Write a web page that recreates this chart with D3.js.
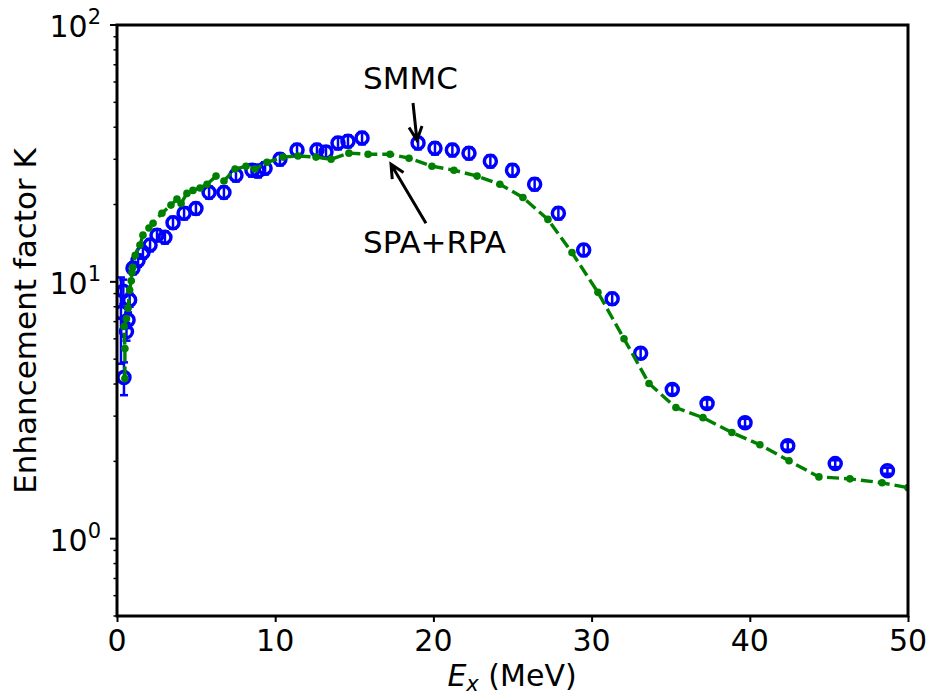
<!DOCTYPE html>
<html>
<head>
<meta charset="utf-8">
<script src="https://cdn.jsdelivr.net/npm/d3@7"></script>
<style>
  body { margin: 0; background: #fff; }
  text { font-family: "DejaVu Sans", sans-serif; fill: #000; }
</style>
</head>
<body>
<div id="chart"></div>
<script>
var W = 930, H = 698

// SMMC: excitation energy (MeV), enhancement factor, error
var smmcX = [0.25, 0.40, 0.44, 0.60, 0.70, 0.80, 1.01, 1.33, 1.64, 2.09, 2.53, 3.03, 3.54, 4.24, 4.99, 5.82, 6.76, 7.52, 8.53, 8.91, 9.36, 10.30, 11.38, 12.64, 13.21, 13.97, 14.60, 15.49, 19.03, 20.1, 21.2, 22.25, 23.6, 25.0, 26.4, 27.9, 29.5, 31.3, 33.1, 35.1, 37.3, 39.7, 42.4, 45.4, 48.7]
var smmcK = [7.6, 9.2, 4.24, 6.4, 7.1, 8.5, 11.3, 12.1, 13.0, 13.9, 15.2, 14.9, 17.0, 18.5, 19.3, 22.3, 22.3, 26.0, 27.2, 27.0, 27.7, 30.0, 32.6, 32.6, 32.0, 34.7, 35.3, 36.3, 34.7, 33.1, 32.6, 31.7, 29.5, 27.2, 24.0, 18.5, 13.3, 8.6, 5.27, 3.81, 3.36, 2.83, 2.30, 1.96, 1.84]
var smmcErr = [2.8, 1.0, 0.62, 0.5, 0.5, 0.5, 0.6, 0.65, 0.7, 0.75, 0.8, 0.8, 0.9, 1.0, 1.0, 1.2, 1.2, 1.4, 1.5, 1.5, 1.5, 1.6, 1.8, 1.8, 1.7, 1.9, 1.9, 2.0, 1.9, 1.8, 1.8, 1.7, 1.6, 1.5, 1.3, 1.0, 0.7, 0.45, 0.25, 0.15, 0.12, 0.1, 0.08, 0.06, 0.05]

// SPA+RPA
var spaX = [0.5, 0.5, 0.45, 0.6, 0.7, 0.8, 0.9, 0.95, 1.0, 1.15, 1.45, 1.64, 2.02, 2.28, 2.84, 3.41, 3.79, 4.05, 4.42, 4.80, 5.25, 5.69, 6.26, 6.76, 7.46, 8.15, 8.72, 9.48, 10.49, 11.44, 12.58, 13.53, 14.66, 15.87, 17.26, 18.46, 19.91, 21.3, 22.76, 24.2, 25.66, 27.24, 28.76, 30.4, 32.05, 33.63, 35.33, 37.04, 38.87, 40.64, 42.48, 44.37, 46.33, 48.36, 50]
var spaK = [4.2, 5.5, 6.7, 7.2, 7.9, 9.3, 10.1, 10.9, 11.4, 12.7, 13.9, 15.2, 16.2, 16.9, 18.5, 19.9, 21.0, 20.2, 22.1, 22.7, 23.2, 24.0, 25.8, 24.7, 27.5, 28.2, 27.5, 29.2, 30.6, 30.9, 30.6, 30.0, 31.7, 31.4, 31.4, 30.3, 28.2, 27.2, 25.8, 24.0, 21.3, 17.5, 13.0, 9.1, 6.0, 4.02, 3.24, 2.96, 2.59, 2.32, 2.01, 1.74, 1.71, 1.65, 1.58]

var xTicks = [0, 10, 20, 30, 40, 50]
var yTicks = [1, 10, 100]
var yExp = ["0", "1", "2"]

// annotations: label position, arrow start, arrow tip (data coords)
var annLabels = ["SMMC", "SPA+RPA"]
var annText = [[15.55, 56.3], [15.55, 12.9]]
var annFrom = [[18.71, 49.7], [19.53, 16.9]]
var annTo = [[18.96, 35.6], [17.32, 28.7]]

var xScale = d3.scaleLinear().domain([0, 50]).range([117, 908])
var yScale = d3.scaleLog().domain([0.5, 100]).range([616, 25])

var svg = d3.select("#chart").append("svg")
    .attr("width", W)
    .attr("height", H)

svg.append("defs").append("clipPath").attr("id", "clip")
    .append("rect")
    .attr("x", 117).attr("y", 25)
    .attr("width", 791).attr("height", 591)

var plotG = svg.append("g").attr("clip-path", "url(#clip)")

// SMMC error bars and open circles
var smmc = smmcX.map(function(d, i) { return {x: d, k: smmcK[i], e: smmcErr[i]} })

var errG = plotG.selectAll(".err")
    .data(smmc)
    .enter()
    .append("g")
    .attr("class", "err")
    .attr("stroke", "#0000ff")
    .attr("stroke-width", 2.5)

errG.append("line")
    .attr("x1", function(d) { return xScale(d.x) })
    .attr("x2", function(d) { return xScale(d.x) })
    .attr("y1", function(d) { return yScale(d.k - d.e) })
    .attr("y2", function(d) { return yScale(d.k + d.e) })
errG.append("line")
    .attr("x1", function(d) { return xScale(d.x) - 4 })
    .attr("x2", function(d) { return xScale(d.x) + 4 })
    .attr("y1", function(d) { return yScale(d.k - d.e) })
    .attr("y2", function(d) { return yScale(d.k - d.e) })
errG.append("line")
    .attr("x1", function(d) { return xScale(d.x) - 4 })
    .attr("x2", function(d) { return xScale(d.x) + 4 })
    .attr("y1", function(d) { return yScale(d.k + d.e) })
    .attr("y2", function(d) { return yScale(d.k + d.e) })

plotG.selectAll(".smmc")
    .data(smmc)
    .enter()
    .append("circle")
    .attr("class", "smmc")
    .attr("cx", function(d) { return xScale(d.x) })
    .attr("cy", function(d) { return yScale(d.k) })
    .attr("r", 6)
    .attr("fill", "none")
    .attr("stroke", "#0000ff")
    .attr("stroke-width", 3.5)

// SPA+RPA dashed line with dots
var spa = spaX.map(function(d, i) { return {x: d, k: spaK[i]} })
var line = d3.line()
    .x(function(d) { return xScale(d.x) })
    .y(function(d) { return yScale(d.k) })

plotG.append("path")
    .datum(spa)
    .attr("d", line)
    .attr("fill", "none")
    .attr("stroke", "#008000")
    .attr("stroke-width", 3.4)
    .attr("stroke-dasharray", "12,5")

plotG.selectAll(".spa")
    .data(spa)
    .enter()
    .append("circle")
    .attr("class", "spa")
    .attr("cx", function(d) { return xScale(d.x) })
    .attr("cy", function(d) { return yScale(d.k) })
    .attr("r", 3.8)
    .attr("fill", "#008000")

// annotations
annLabels.forEach(function(lab, i) {
    svg.append("text")
        .attr("x", xScale(annText[i][0]))
        .attr("y", yScale(annText[i][1]))
        .attr("font-size", "31px")
        .text(lab)

    var x1 = xScale(annFrom[i][0]), y1 = yScale(annFrom[i][1])
    var x2 = xScale(annTo[i][0]), y2 = yScale(annTo[i][1])
    var ang = Math.atan2(y2 - y1, x2 - x1)
    var hl = 15, ha = 0.45
    var p = "M" + x1 + "," + y1 + "L" + x2 + "," + y2 +
        "M" + (x2 - hl * Math.cos(ang - ha)) + "," + (y2 - hl * Math.sin(ang - ha)) +
        "L" + x2 + "," + y2 +
        "L" + (x2 - hl * Math.cos(ang + ha)) + "," + (y2 - hl * Math.sin(ang + ha))
    svg.append("path")
        .attr("d", p)
        .attr("fill", "none")
        .attr("stroke", "#000")
        .attr("stroke-width", 3)
})

// axes
var xAxis = d3.axisBottom(xScale).tickValues(xTicks).tickSize(6).tickFormat("")
svg.append("g")
    .attr("transform", "translate(0,616)")
    .call(xAxis)
    .call(function(g) { g.select(".domain").remove() })
    .selectAll("line").attr("stroke-width", 2)

svg.selectAll(".xlab")
    .data(xTicks)
    .enter()
    .append("text")
    .attr("class", "xlab")
    .attr("x", function(d) { return xScale(d) })
    .attr("y", 651)
    .attr("text-anchor", "middle")
    .attr("font-size", "30px")
    .text(function(d) { return d })

// y minor ticks
var minor = []
;[0.5, 0.6, 0.7, 0.8, 0.9].forEach(function(v) { minor.push(v) })
for (var dec = 1; dec <= 10; dec *= 10) {
    for (var m = 2; m <= 9; m++) minor.push(m * dec)
}
svg.selectAll(".ymin")
    .data(minor)
    .enter()
    .append("line")
    .attr("x1", 113.5).attr("x2", 117)
    .attr("y1", function(d) { return yScale(d) })
    .attr("y2", function(d) { return yScale(d) })
    .attr("stroke", "#000")
    .attr("stroke-width", 1.5)

svg.selectAll(".ymaj")
    .data(yTicks)
    .enter()
    .append("line")
    .attr("x1", 110).attr("x2", 117)
    .attr("y1", function(d) { return yScale(d) })
    .attr("y2", function(d) { return yScale(d) })
    .attr("stroke", "#000")
    .attr("stroke-width", 2)

var yl = svg.selectAll(".ylab")
    .data(yTicks)
    .enter()
    .append("text")
    .attr("class", "ylab")
    .attr("x", 101)
    .attr("y", function(d) { return yScale(d) + 12 })
    .attr("text-anchor", "end")
    .attr("font-size", "30px")
yl.append("tspan").text("10")
yl.append("tspan")
    .attr("font-size", "21px")
    .attr("dy", -13)
    .text(function(d, i) { return yExp[i] })

// frame
svg.append("rect")
    .attr("x", 117).attr("y", 25)
    .attr("width", 791).attr("height", 591)
    .attr("fill", "none")
    .attr("stroke", "#000")
    .attr("stroke-width", 3)

// axis titles
var xt = svg.append("text")
    .attr("x", 512)
    .attr("y", 686)
    .attr("text-anchor", "middle")
    .attr("font-size", "30px")
xt.append("tspan").attr("font-style", "italic").text("E")
xt.append("tspan").attr("font-style", "italic").attr("font-size", "21px").attr("dy", 5).text("x")
xt.append("tspan").attr("dy", -5).text(" (MeV)")

svg.append("text")
    .attr("transform", "translate(36,321) rotate(-90)")
    .attr("text-anchor", "middle")
    .attr("font-size", "31px")
    .text("Enhancement factor K")
</script>
</body>
</html>
